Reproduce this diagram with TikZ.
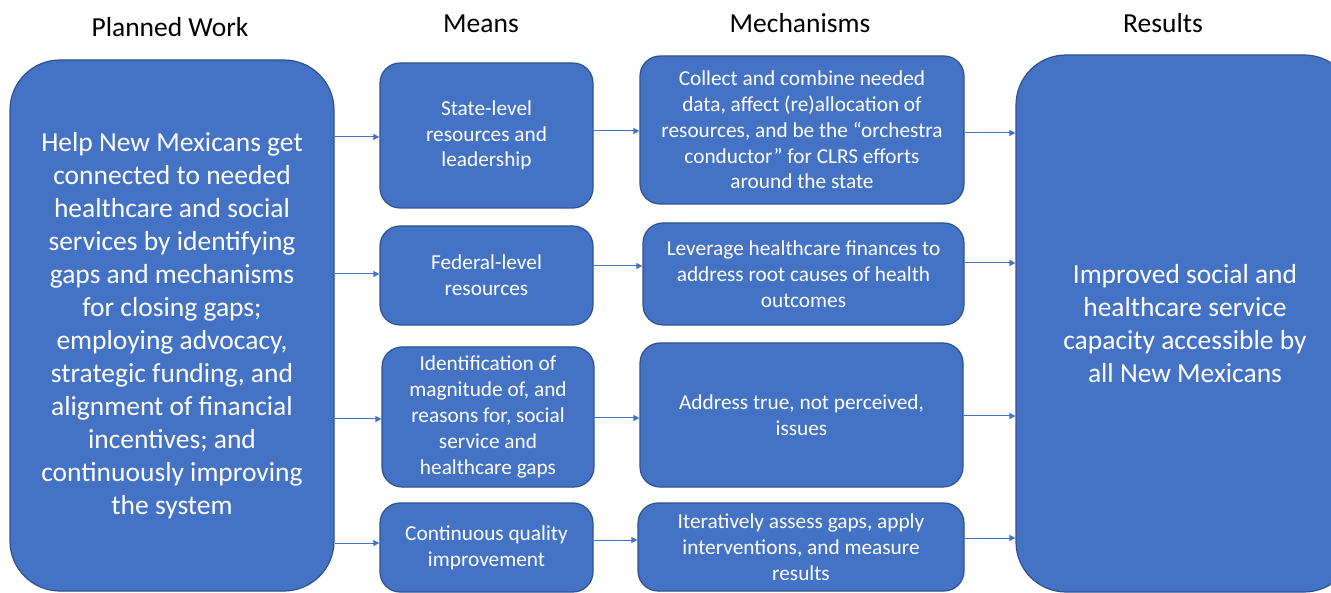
\documentclass[tikz,border=0pt]{standalone}
\usepackage{fontspec}
\setmainfont{Carlito}
\usetikzlibrary{arrows.meta,positioning}
\definecolor{boxblue}{HTML}{4472C4}
\definecolor{edgeblue}{HTML}{2F528F}
\begin{document}
\begin{tikzpicture}[x=1pt,y=-1pt,>={Triangle[length=6pt,width=6pt]}]
        \tikzstyle{box}=[draw=edgeblue, line width=1.2pt, fill=boxblue, text=white, rounded corners=20pt, align=center, inner sep=0pt, font=\fontsize{21.3}{25.8}\selectfont]
        \tikzstyle{bigbox}=[box, rounded corners=50pt, font=\fontsize{27.5}{33}\selectfont]
        \tikzstyle{head}=[anchor=base, font=\fontsize{27.5}{32}\selectfont]
        \tikzstyle{flow}=[->, boxblue, line width=1pt]
        \useasboundingbox (0,0) rectangle (1331,593);
        \clip (0,0) rectangle (1331,593);

        % Column headers
        \node[head] (hplan) at (170,37) {Planned Work};
        \node[head] (hmeans) at (481,33) {Means};
        \node[head] (hmech) at (800,33) {Mechanisms};
        \node[head] (hres) at (1163,33) {Results};

        % Planned work
        \node[bigbox, minimum width=324pt, minimum height=531pt] (plan) at (172,325.5) {Help New Mexicans get\\connected to needed\\healthcare and social\\services by identifying\\gaps and mechanisms\\for closing gaps;\\employing advocacy,\\strategic funding, and\\alignment of financial\\incentives; and\\continuously improving\\the system};

        % Means
        \node[box, minimum width=213pt, minimum height=145pt] (m1) at (486.5,135.5) {State-level\\resources and\\leadership};
        \node[box, minimum width=213pt, minimum height=99pt] (m2) at (486.5,275.5) {Federal-level\\resources};
        \node[box, minimum width=212pt, minimum height=140pt] (m3) at (488,417) {Identification of\\magnitude of, and\\reasons for, social\\service and\\healthcare gaps};
        \node[box, minimum width=213pt, minimum height=89pt] (m4) at (486.5,547.5) {Continuous quality\\improvement};

        % Mechanisms
        \node[box, minimum width=324pt, minimum height=148pt] (k1) at (802,130) {Collect and combine needed\\data, affect (re)allocation of\\resources, and be the “orchestra\\conductor” for CLRS efforts\\around the state};
        \node[box, minimum width=321pt, minimum height=102pt] (k2) at (803.5,274) {Leverage healthcare finances to\\address root causes of health\\outcomes};
        \node[box, minimum width=323pt, minimum height=144pt] (k3) at (801.5,415) {Address true, not perceived,\\issues};
        \node[box, minimum width=326pt, minimum height=88pt] (k4) at (801,547) {Iteratively assess gaps, apply\\interventions, and measure\\results};

        % Results
        \node[bigbox, minimum width=338pt, minimum height=537pt] (res) at (1185,323.5) {Improved social and\\healthcare service\\capacity accessible by\\all New Mexicans};

        % Planned work to means
        \draw[flow] (plan.east |- 0,137) -- (m1.west |- 0,137);
        \draw[flow] (plan.east |- 0,274) -- (m2.west |- 0,274);
        \draw[flow] (plan.east |- 0,419) -- (m3.west |- 0,419);
        \draw[flow] (plan.east |- 0,543) -- (m4.west |- 0,543);

        % Means to mechanisms
        \draw[flow] (m1.east |- 0,131) -- (k1.west |- 0,131);
        \draw[flow] (m2.east |- 0,266) -- (k2.west |- 0,266);
        \draw[flow] (m3.east |- 0,418) -- (k3.west |- 0,418);
        \draw[flow] (m4.east |- 0,540) -- (k4.west |- 0,540);

        % Mechanisms to results
        \draw[flow] (k1.east |- 0,133) -- (res.west |- 0,133);
        \draw[flow] (k2.east |- 0,263) -- (res.west |- 0,263);
        \draw[flow] (k3.east |- 0,416) -- (res.west |- 0,416);
        \draw[flow] (k4.east |- 0,538) -- (res.west |- 0,538);
\end{tikzpicture}
\end{document}
